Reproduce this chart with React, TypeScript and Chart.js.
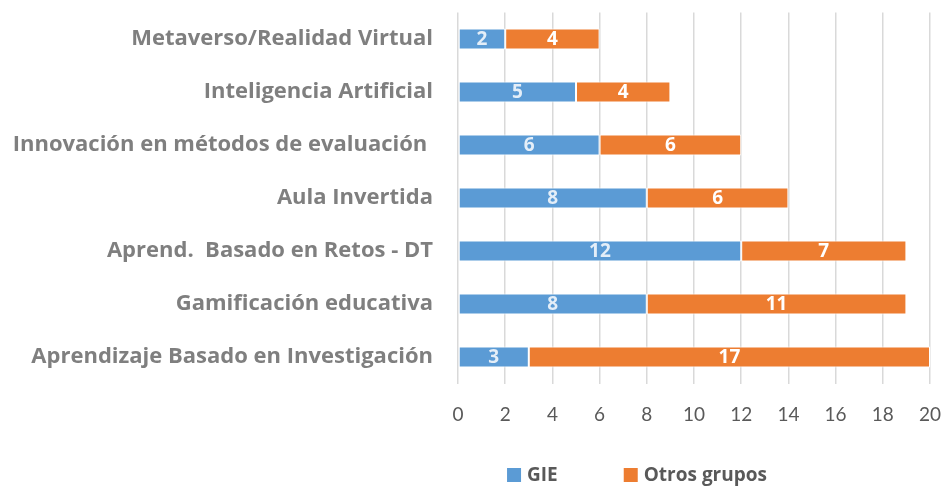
import React, { useEffect, useRef } from "react";
import { Chart, registerables } from "chart.js";

Chart.register(...registerables);

const categories = [
  "Metaverso/Realidad Virtual",
  "Inteligencia Artificial",
  "Innovación en métodos de evaluación ",
  "Aula Invertida",
  "Aprend.  Basado en Retos - DT",
  "Gamificación educativa",
  "Aprendizaje Basado en Investigación",
];
const gieValues = [2, 5, 6, 8, 12, 8, 3];
const otrosValues = [4, 4, 6, 6, 7, 11, 17];
const seriesLabels = ["GIE", "Otros grupos"];
const xTicks = [0, 2, 4, 6, 8, 10, 12, 14, 16, 18, 20];

const FONT = "Lato, 'Open Sans', sans-serif";
const BOLD_FONT = "'Open Sans', Lato, sans-serif";
const BLUE = "#5B9BD5";
const ORANGE = "#ED7D31";

const barLabels = {
  id: "barLabels",
  afterDatasetsDraw(chart: any) {
    const ctx = chart.ctx;
    ctx.save();
    ctx.font = `bold 19px ${BOLD_FONT}`;
    ctx.textAlign = "center";
    ctx.textBaseline = "middle";
    chart.data.datasets.forEach((ds: any, di: number) => {
      const meta = chart.getDatasetMeta(di);
      meta.data.forEach((bar: any, i: number) => {
        const v = ds.data[i];
        const cx = (bar.x + bar.base) / 2;
        ctx.fillStyle = di === 0 ? "#E4EEF8" : "#FFFFFF";
        ctx.fillText(String(v), cx, bar.y + 1);
      });
    });
    ctx.restore();
  },
};

const customLegend = {
  id: "customLegend",
  afterDraw(chart: any) {
    const ctx = chart.ctx;
    const ds = chart.data.datasets;
    ctx.save();
    ctx.font = `bold 19px ${BOLD_FONT}`;
    ctx.textBaseline = "middle";
    ctx.textAlign = "left";
    const box = 14;
    const gapText = 6;
    const gapItems = 66;
    const widths = ds.map((d: any) => box + gapText + ctx.measureText(d.label).width);
    const total = widths.reduce((a: number, b: number) => a + b, 0) + gapItems * (ds.length - 1);
    const cx = 637;
    const y = 475;
    let x = cx - total / 2;
    ds.forEach((d: any, i: number) => {
      ctx.fillStyle = d.backgroundColor;
      ctx.fillRect(x, y - box / 2, box, box);
      ctx.fillStyle = "#595959";
      ctx.fillText(d.label, x + box + gapText, y + 1);
      x += widths[i] + gapItems;
    });
    ctx.restore();
  },
};

export default function App() {
  const ref = useRef<HTMLCanvasElement | null>(null);
  useEffect(() => {
    if (!ref.current) return;
    const chart = new Chart(ref.current, {
      type: "bar",
      data: {
        labels: categories,
        datasets: [
          {
            label: seriesLabels[0],
            data: gieValues,
            backgroundColor: BLUE,
            borderColor: "#FFFFFF",
            borderWidth: 1,
            borderSkipped: false,
            barPercentage: 0.4,
            categoryPercentage: 1,
          },
          {
            label: seriesLabels[1],
            data: otrosValues,
            backgroundColor: ORANGE,
            borderColor: "#FFFFFF",
            borderWidth: 1,
            borderSkipped: false,
            barPercentage: 0.4,
            categoryPercentage: 1,
          },
        ],
      },
      options: {
        indexAxis: "y",
        responsive: false,
        animation: false,
        layout: { padding: { top: 12.5, right: 16, bottom: 61, left: 0 } },
        plugins: {
          legend: { display: false },
          tooltip: { enabled: false },
        },
        scales: {
          x: {
            stacked: true,
            min: 0,
            max: 20,
            afterBuildTicks(scale: any) {
              scale.ticks = xTicks.map((v) => ({ value: v }));
            },
            afterFit(scale: any) {
              scale.height = 41.5;
              scale.paddingLeft = 0;
              scale.paddingRight = 0;
            },
            grid: { color: "#D9D9D9", lineWidth: 1.5, drawTicks: false },
            border: { display: false },
            ticks: {
              padding: 20,
              color: "#595959",
              font: { family: FONT, size: 19 },
            },
          },
          y: {
            stacked: true,
            afterFit(scale: any) {
              scale.width = 458;
              scale.paddingTop = 0;
              scale.paddingBottom = 0;
            },
            grid: { display: false, drawTicks: false },
            border: { display: false },
            ticks: {
              padding: 25,
              color: "#7F7F7F",
              font: { family: BOLD_FONT, size: 22, weight: "bold" },
            },
          },
        },
      },
      plugins: [barLabels, customLegend],
    });
    return () => chart.destroy();
  }, []);
  return (
    <div style={{ position: "absolute", left: 0, top: 0, width: 946, height: 486, background: "#fff" }}>
      <canvas ref={ref} width={946} height={486} />
    </div>
  );
}
